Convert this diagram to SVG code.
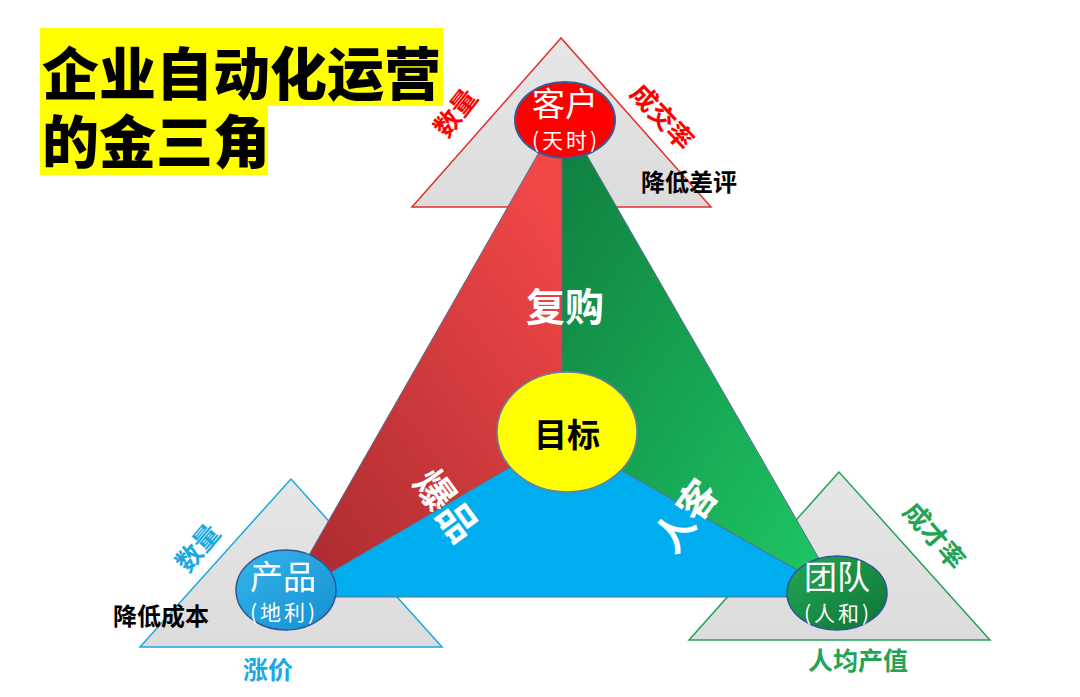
<svg xmlns="http://www.w3.org/2000/svg" width="1080" height="697" viewBox="0 0 1080 697">
<style>
.cjk{font-family:"Noto Sans CJK SC","Noto Sans",sans-serif}
.b{font-weight:bold}
.title{font-size:57px;font-weight:900;fill:#000}
.cname{font-size:33px;fill:#fff;text-anchor:middle}
.csub{font-size:21px;fill:#fff;text-anchor:middle;letter-spacing:3px}
.side{font-size:26px;font-weight:bold;text-anchor:middle}
.big{font-size:39px;font-weight:bold;fill:#fff;text-anchor:middle}
.note{font-size:24px;font-weight:bold;fill:#000}
.edge{stroke:#5b6f8f;stroke-width:1}
</style>
<defs>
<linearGradient id="gRed" x1="0.8" y1="0" x2="0" y2="1">
<stop offset="0" stop-color="#f44848"/><stop offset="1" stop-color="#a62a2e"/>
</linearGradient>
<linearGradient id="gGreen" x1="0.1" y1="0" x2="1" y2="1">
<stop offset="0" stop-color="#108040"/><stop offset="1" stop-color="#1ecb66"/>
</linearGradient>
<linearGradient id="gProd" x1="0" y1="0" x2="1" y2="1">
<stop offset="0" stop-color="#35b4ea"/><stop offset="1" stop-color="#1590d2"/>
</linearGradient>
<linearGradient id="gTeam" x1="0" y1="0" x2="1" y2="1">
<stop offset="0" stop-color="#24a855"/><stop offset="1" stop-color="#0c7436"/>
</linearGradient>
<linearGradient id="gTri" x1="0" y1="0" x2="0" y2="1">
<stop offset="0" stop-color="#e6e6e6"/><stop offset="1" stop-color="#dcdcdc"/>
</linearGradient>
</defs>
<rect x="0" y="0" width="1080" height="697" fill="#fff"/>

<g id="title">
<rect x="40" y="28" width="403" height="78" fill="#ffff00"/>
<rect x="40" y="105" width="228" height="70" fill="#ffff00"/>
<text class="cjk title" x="42" y="95">企业自动化运营</text>
<text class="cjk title" x="42" y="163">的金三角</text>
</g>

<g id="tri-customer">
<polygon points="561,38 412,207 711,207" fill="url(#gTri)" stroke="#e03030" stroke-width="1.5"/>
</g>
<g id="tri-product">
<polygon points="291,479 140,647 442,647" fill="url(#gTri)" stroke="#1ca8e0" stroke-width="1.5"/>
</g>
<g id="tri-team">
<polygon points="839,472 689,640 990,640" fill="url(#gTri)" stroke="#22a454" stroke-width="1.5"/>
</g>

<g id="sectors">
<polygon class="edge" points="562,112 289,590 289,597 562,437" fill="url(#gRed)"/>
<polygon class="edge" points="562,112 837,590 845,597 562,437" fill="url(#gGreen)"/>
<polygon class="edge" points="562,437 289,597 845,597" fill="#00aeef"/>
</g>

<g id="connectors"></g>

<g id="node-customer">
<ellipse cx="565" cy="120" rx="50" ry="38" fill="#ff0000" stroke="#3a5a90" stroke-width="2"/>
<text class="cjk cname" x="565" y="116">客户</text>
<text class="cjk csub" x="566" y="148">(天时)</text>
</g>
<g id="node-product">
<ellipse cx="286" cy="590" rx="50" ry="40" fill="url(#gProd)" stroke="#2f5597" stroke-width="1.5"/>
<text class="cjk cname" x="283" y="589">产品</text>
<text class="cjk csub" x="284" y="620">(地利)</text>
</g>
<g id="node-team">
<ellipse cx="837" cy="593" rx="50" ry="37" fill="url(#gTeam)" stroke="#2f5597" stroke-width="1.5"/>
<text class="cjk cname" x="837" y="589">团队</text>
<text class="cjk csub" x="838" y="621">(人和)</text>
</g>
<g id="node-target">
<ellipse cx="567" cy="432" rx="70" ry="60" fill="#ffff00" stroke="#6b7f99" stroke-width="1.5"/>
<text class="cjk b" x="567" y="447" font-size="33" text-anchor="middle" fill="#000">目标</text>
</g>

<g id="labels">
<text class="cjk big" x="565" y="321">复购</text>
<text class="cjk big" transform="translate(446,506) rotate(54)" y="14">爆品</text>
<text class="cjk big" transform="translate(686,516) rotate(-54)" y="14">人客</text>

<text class="cjk side" fill="#ff0000" transform="translate(456,113) rotate(-52)" y="9">数量</text>
<text class="cjk side" fill="#ff0000" transform="translate(662,117) rotate(47)" y="9">成交率</text>
<text class="cjk side" fill="#1ca8e0" transform="translate(198,548) rotate(-50)" y="9">数量</text>
<text class="cjk side" fill="#22a454" transform="translate(934,536) rotate(49)" y="9">成才率</text>

<text class="cjk note" x="641" y="191">降低差评</text>
<text class="cjk note" x="113" y="625">降低成本</text>
<text class="cjk b" x="243" y="679" font-size="25" fill="#1ca8e0">涨价</text>
<text class="cjk b" x="808" y="670" font-size="25" fill="#22a454">人均产值</text>
</g>
</svg>
